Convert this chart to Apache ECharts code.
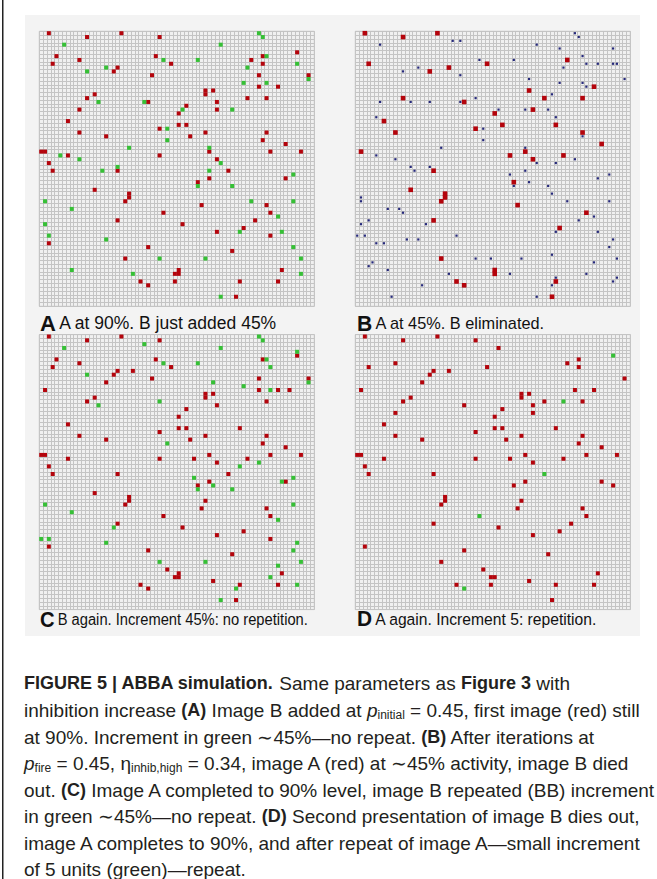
<!DOCTYPE html>
<html><head><meta charset="utf-8">
<script src="https://cdn.jsdelivr.net/npm/echarts@6/dist/echarts.min.js"></script>
<style>html,body{margin:0;padding:0;background:#fff}#c{width:657px;height:879px}</style>
</head><body><div id="c"></div><script>
// ---- data: cell indices [column, row] on a 72 x 72 lattice ----
const GRID_N = 72;

const A_red = [[2,0],[12,1],[21,0],[31,1],[4,6],[3,8],[10,7],[30,6],[34,8],[67,5],[58,6],[55,7],[58,8],[20,9],[19,10],[29,11],[70,11],[57,11],[57,14],[62,14],[43,15],[43,16],[45,15],[14,16],[12,17],[54,17],[59,17],[28,18],[46,18],[38,19],[46,20],[10,20],[36,21],[7,23],[36,24],[38,24],[31,25],[10,26],[17,27],[39,27],[43,26],[59,26],[58,28],[64,29],[0,31],[1,31],[7,32],[31,32],[44,31],[60,31],[68,31],[46,33],[2,34],[3,36],[20,36],[49,36],[44,38],[64,38],[41,39],[14,41],[23,42],[23,43],[22,44],[42,45],[59,45],[32,47],[60,47],[20,49],[56,49],[37,50],[53,51],[46,52],[60,53],[2,55],[28,56],[50,57],[22,59],[36,62],[63,62],[35,63],[36,63],[26,65],[28,66],[35,65],[52,65],[62,65],[51,69]];
const A_green = [[6,3],[47,3],[57,0],[58,1],[59,6],[32,7],[41,7],[67,8],[54,9],[17,9],[12,10],[53,13],[59,13],[70,12],[15,18],[27,18],[37,20],[50,20],[33,25],[33,28],[23,30],[44,30],[5,32],[10,33],[47,34],[20,35],[16,36],[44,36],[66,37],[41,40],[50,40],[1,44],[55,44],[66,44],[8,46],[62,48],[1,50],[52,52],[63,52],[2,53],[17,54],[66,56],[31,59],[43,59],[68,59],[8,62],[24,63],[68,63],[47,69]];

const B_red = [[2,0],[12,1],[21,0],[3,8],[19,10],[24,9],[34,8],[55,7],[62,14],[45,15],[49,17],[59,17],[12,17],[28,18],[46,20],[36,21],[7,23],[38,24],[52,24],[31,25],[10,26],[59,26],[64,29],[1,31],[44,31],[40,32],[54,32],[46,33],[20,36],[41,39],[14,41],[23,42],[23,43],[22,44],[42,45],[60,47],[20,49],[53,51],[22,59],[36,62],[36,63],[26,65],[28,66],[52,65],[51,69]];
const B_blue = [[57,0],[58,1],[6,3],[25,2],[27,2],[47,3],[53,4],[67,4],[59,6],[32,7],[41,7],[60,8],[63,8],[67,8],[68,8],[54,9],[16,9],[12,10],[27,11],[45,12],[70,12],[53,13],[59,13],[60,14],[51,16],[6,18],[14,18],[19,18],[27,18],[31,17],[37,20],[44,20],[50,20],[5,22],[52,22],[33,25],[59,27],[33,28],[22,30],[44,30],[5,32],[10,33],[57,33],[47,34],[52,34],[14,35],[19,35],[15,36],[44,36],[40,37],[66,37],[63,38],[45,39],[41,40],[50,40],[51,42],[1,43],[1,44],[55,44],[66,44],[8,46],[11,46],[12,47],[62,48],[3,49],[58,49],[1,50],[18,50],[52,52],[63,52],[0,53],[2,53],[13,54],[16,54],[26,53],[67,54],[5,55],[7,55],[66,56],[51,58],[31,59],[35,59],[43,59],[68,59],[4,60],[3,61],[62,60],[8,62],[24,63],[40,63],[60,63],[52,64],[68,64],[67,65],[17,66],[51,66],[9,69],[47,69]];

const C_red = [[2,0],[12,1],[21,0],[31,1],[4,6],[3,8],[10,7],[30,6],[34,8],[67,5],[58,6],[57,11],[20,9],[19,10],[24,9],[17,12],[29,11],[70,11],[1,14],[57,14],[62,14],[65,14],[43,15],[43,16],[45,15],[14,16],[12,17],[46,18],[59,17],[38,19],[36,21],[7,23],[36,24],[38,24],[52,24],[31,25],[10,26],[17,27],[39,27],[43,26],[59,26],[58,28],[64,29],[0,31],[1,31],[7,32],[31,32],[44,31],[60,31],[68,31],[40,32],[54,32],[46,33],[2,34],[3,36],[20,36],[49,36],[44,38],[64,38],[41,39],[14,41],[23,42],[23,43],[22,44],[43,43],[42,45],[59,45],[32,47],[60,47],[20,49],[37,50],[53,51],[46,52],[60,53],[2,55],[28,56],[50,57],[33,61],[36,62],[63,62],[35,63],[36,63],[26,65],[28,66],[45,64],[52,65],[62,65],[51,69]];
const C_green = [[57,0],[58,1],[6,3],[27,2],[47,3],[67,4],[59,6],[60,8],[32,7],[41,7],[12,10],[45,12],[53,13],[60,14],[70,12],[15,18],[31,17],[33,28],[57,33],[52,34],[40,37],[41,40],[45,39],[50,40],[63,38],[66,37],[1,44],[66,44],[8,46],[62,48],[19,50],[0,53],[2,53],[17,54],[67,54],[66,56],[31,59],[43,59],[68,59],[62,60],[60,63],[67,65],[51,66],[47,69]];

const D_red = [[2,0],[12,1],[21,0],[31,1],[37,3],[58,6],[55,7],[58,8],[3,8],[10,7],[34,8],[20,9],[19,10],[24,9],[17,12],[70,11],[1,14],[57,14],[62,14],[43,15],[43,16],[45,15],[14,16],[12,17],[49,17],[59,17],[28,18],[46,18],[38,19],[46,20],[10,20],[36,21],[7,23],[36,24],[38,24],[52,24],[31,25],[10,26],[17,27],[39,27],[43,26],[59,26],[58,28],[64,29],[0,31],[1,31],[44,31],[60,31],[68,31],[7,32],[31,32],[40,32],[54,32],[46,33],[2,34],[3,36],[20,36],[44,38],[64,38],[67,39],[41,39],[23,42],[23,43],[22,44],[43,43],[42,45],[59,45],[60,47],[20,49],[56,49],[37,50],[53,51],[46,52],[2,55],[28,56],[50,57],[22,59],[33,61],[63,62],[35,63],[36,63],[26,65],[35,65],[45,64],[52,65],[62,65],[51,69]];
const D_green = [[67,5],[54,17],[49,36],[32,47],[28,66]];

const panelLetters = ['A', 'B', 'C', 'D'];
const panelTexts = ['A at 90%. B just added 45%', 'A at 45%. B eliminated.', 'B again. Increment 45%: no repetition.', 'A again. Increment 5: repetition.'];

const captionLines = [
  '{b|FIGURE 5 | ABBA simulation.}{n| Same parameters as }{b|Figure 3}{n| with}',
  '{n|inhibition increase }{b|(A)}{n| Image B added at }{i|p}{s|initial}{n| = 0.45, first image (red) still}',
  '{n|at 90%. Increment in green ∼45%—no repeat. }{b|(B)}{n| After iterations at}',
  '{i|p}{s|fire}{n| = 0.45, η}{s|inhib,high}{n| = 0.34, image A (red) at ∼45% activity, image B died}',
  '{n|out. }{b|(C)}{n| Image A completed to 90% level, image B repeated (BB) increment}',
  '{n|in green ∼45%—no repeat. }{b|(D)}{n| Second presentation of image B dies out,}',
  '{n|image A completes to 90%, and after repeat of image A—small increment}',
  '{n|of 5 units (green)—repeat.}'
];

// ---- build chart ----
const RED = '#b4040c', GREEN = '#36c036', BLUE = '#25287a';
const cats = Array.from({length: GRID_N}, (_, i) => String(i));
const SIZE = 275;
const panelPos = [[39.3, 31.3], [355.3, 31.3], [39.3, 334.6], [355.3, 334.6]];
const panelSeries = [
  [[A_red, RED, 4], [A_green, GREEN, 4]],
  [[B_red, RED, 4.6], [B_blue, BLUE, 2.2]],
  [[C_red, RED, 4], [C_green, GREEN, 4]],
  [[D_red, RED, 4], [D_green, GREEN, 4]]
];
const grids = [], xAxes = [], yAxes = [], series = [];
const lineCol = '#c4c4c4';
panelPos.forEach((p, k) => {
  grids.push({left: p[0], top: p[1], width: SIZE, height: SIZE, show: true,
    backgroundColor: '#f0f0f0', borderColor: lineCol, borderWidth: 1});
  const ax = {type: 'category', data: cats, gridIndex: k, boundaryGap: true,
    axisLine: {show: false}, axisTick: {show: false}, axisLabel: {show: false},
    splitLine: {show: true, interval: 0, lineStyle: {color: lineCol, width: 1}}};
  xAxes.push(Object.assign({}, ax));
  yAxes.push(Object.assign({inverse: true}, ax));
  panelSeries[k].forEach(s => {
    series.push({type: 'scatter', xAxisIndex: k, yAxisIndex: k, data: s[0],
      symbol: 'rect', symbolSize: s[2], itemStyle: {color: s[1], opacity: 1},
      silent: true, z: 3});
  });
});

const LABEL_FONT = '"Liberation Sans", Arial, sans-serif';
const CAP_FONT = '"Liberation Sans", Arial, sans-serif';
// [x, y, text size, horizontal squeeze]
const labelPos = [[40, 323, 17.5, 1], [357, 323, 17, 0.96], [40, 619, 16, 0.92], [357, 619, 16.5, 0.95]];
const graphic = [
  {type: 'rect', shape: {x: 25, y: 15, width: 615, height: 621}, style: {fill: '#f3f3f3'}, z: -10, silent: true},
  {type: 'rect', shape: {x: 2, y: 0, width: 1.5, height: 879}, style: {fill: '#222'}, z: 20, silent: true}
];
labelPos.forEach((p, k) => {
  graphic.push({type: 'text', x: p[0], y: p[1], scaleX: p[3], silent: true, z: 10,
    style: {text: '{L|' + panelLetters[k] + '} {t|' + panelTexts[k] + '}', verticalAlign: 'middle',
      rich: {L: {fontFamily: LABEL_FONT, fontSize: 22, fontWeight: 'bold', fill: '#111'},
             t: {fontFamily: LABEL_FONT, fontSize: p[2], fill: '#111'}}}});
});
const capRich = {
  n: {fontFamily: CAP_FONT, fontSize: 19, fill: '#231f20', lineHeight: 22},
  b: {fontFamily: CAP_FONT, fontSize: 18, fontWeight: 'bold', fill: '#231f20', lineHeight: 22},
  i: {fontFamily: CAP_FONT, fontSize: 19, fontStyle: 'italic', fill: '#231f20', lineHeight: 22},
  s: {fontFamily: CAP_FONT, fontSize: 12, fill: '#231f20', lineHeight: 10, verticalAlign: 'bottom'}
};
const capY = [683, 710, 737, 763, 790, 816, 843, 869];
captionLines.forEach((t, k) => {
  graphic.push({type: 'text', x: 24, y: capY[k], silent: true, z: 10,
    style: {text: t, verticalAlign: 'middle', rich: capRich}});
});

const chart = echarts.init(document.getElementById('c'), null, {renderer: 'svg'});
chart.setOption({
  animation: false,
  backgroundColor: '#ffffff',
  grid: grids, xAxis: xAxes, yAxis: yAxes, series: series,
  graphic: graphic
});
</script></body></html>
